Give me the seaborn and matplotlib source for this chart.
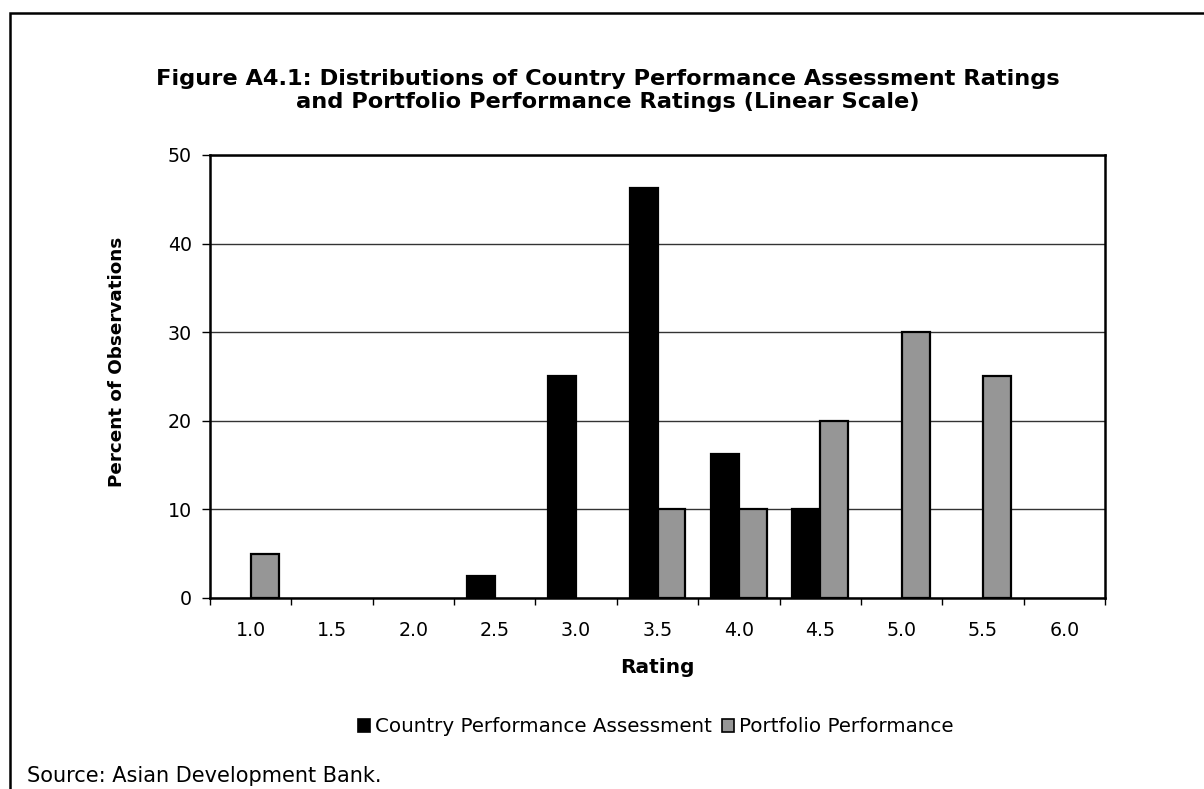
import matplotlib
matplotlib.use("Agg")
import matplotlib.pyplot as plt
from matplotlib.patches import Rectangle, Patch
from matplotlib.ticker import FixedLocator
import numpy as np
import pandas as pd
import seaborn as sns

# Rating categories and the share of observations in each (percent)
ratings = ["1.0", "1.5", "2.0", "2.5", "3.0", "3.5", "4.0", "4.5", "5.0", "5.5", "6.0"]
country_assessment = [0, 0, 0, 2.5, 25, 46.3, 16.3, 10, 0, 0, 0]
portfolio_performance = [5, 0, 0, 0, 0, 10, 10, 20, 30, 25, 0]
series_names = ["Country Performance Assessment", "Portfolio Performance"]
series_colors = ["#000000", "#969696"]
y_ticks = [0, 10, 20, 30, 40, 50]

df = pd.DataFrame({
    "Rating": ratings * 2,
    "Percent": country_assessment + portfolio_performance,
    "Series": [series_names[0]] * len(ratings) + [series_names[1]] * len(ratings),
})

sns.set_theme(style="white")
plt.rcParams["font.family"] = ["DejaVu Sans"]
plt.rcParams.update({
    "text.color": "black",
    "axes.labelcolor": "black",
    "xtick.color": "black",
    "ytick.color": "black",
})

fig = plt.figure(figsize=(12.04, 7.89), dpi=100)
ax = fig.add_axes([0.1744, 0.2421, 0.7434, 0.5615])

sns.barplot(
    data=df, x="Rating", y="Percent", hue="Series", order=ratings,
    hue_order=series_names, palette=series_colors, width=0.686, gap=0,
    edgecolor="black", linewidth=1.6, saturation=1, ax=ax, legend=False,
)

# Empty categories get no visible outline
for bar in ax.patches:
    if bar.get_height() == 0:
        bar.set_linewidth(0)

ax.set_xlim(-0.5, len(ratings) - 0.5)
ax.set_ylim(0, 50)
ax.set_yticks(y_ticks)
ax.yaxis.grid(True, color="#333333", linewidth=1.0)
ax.set_axisbelow(True)

for side in ["left", "right", "top", "bottom"]:
    ax.spines[side].set_visible(True)
    ax.spines[side].set_color("black")
    ax.spines[side].set_linewidth(1.8)

# Category labels centred, tick marks at category boundaries
ax.xaxis.set_minor_locator(FixedLocator(np.arange(-0.5, len(ratings), 1.0)))
ax.tick_params(axis="x", which="major", length=0, pad=16.5, labelsize=13.7)
ax.tick_params(axis="x", which="minor", bottom=True, length=5, width=1.0, color="black")
ax.tick_params(axis="y", which="major", left=True, length=6, width=1.0, pad=7,
               labelsize=13.7)

ax.set_xlabel("Rating", fontsize=14.5, fontweight="bold")
ax.xaxis.set_label_coords(0.5, -0.158)
ax.xaxis.label.set_va("center")
ax.set_ylabel("Percent of Observations", fontsize=13.2, fontweight="bold")
ax.yaxis.set_label_coords(-0.104, 0.534)
ax.yaxis.label.set_va("center")

fig.text(0.505, 0.8853,
         "Figure A4.1: Distributions of Country Performance Assessment Ratings\n"
         "and Portfolio Performance Ratings (Linear Scale)",
         ha="center", va="center", fontsize=16.2, fontweight="bold", linespacing=1.15)

handles = [Patch(facecolor=c, edgecolor="black", linewidth=1.2) for c in series_colors]
fig.legend(handles, series_names, loc="center", bbox_to_anchor=(0.5445, 0.0786),
           ncol=2, frameon=False, fontsize=14.3, handlelength=0.62, handleheight=0.62,
           handletextpad=0.25, columnspacing=0.5, borderpad=0)

fig.text(0.0224, 0.0089, "Source: Asian Development Bank.", ha="left", va="baseline",
         fontsize=15)

# Outer frame
fig.patches.append(Rectangle((0.0083, -0.2), 1.2, 1.1835, transform=fig.transFigure,
                             fill=False, edgecolor="black", linewidth=1.8))

fig.savefig("out.png", dpi=100, facecolor="white")
